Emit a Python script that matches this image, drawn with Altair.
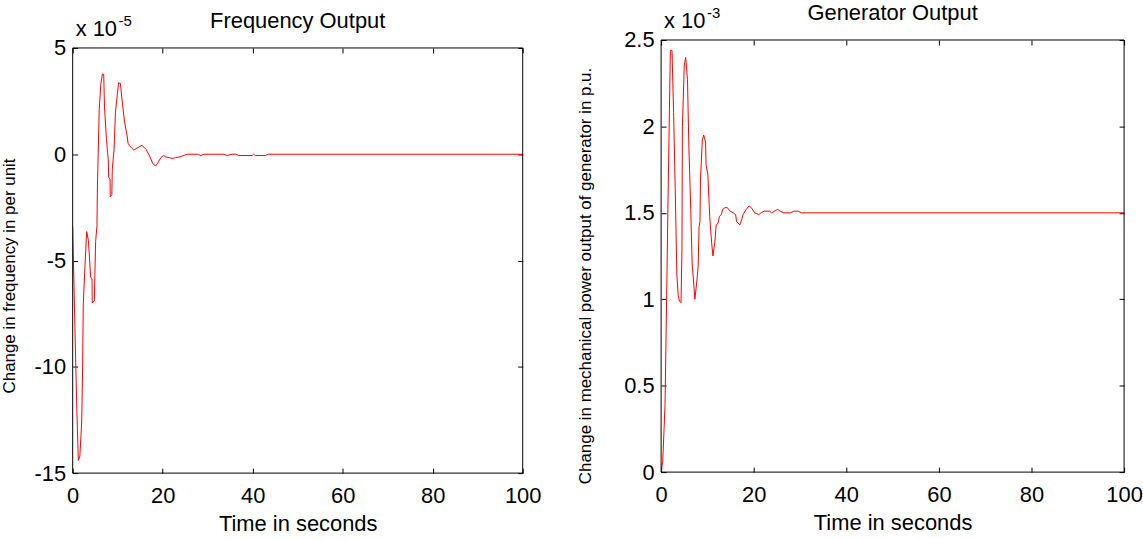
import altair as alt
import pandas as pd

# Frequency output (values in units of 1e-5)
freq_t = [0, 0.5, 0.9, 1.25, 1.6, 2.0, 2.2, 2.35, 2.7, 3.1, 3.5, 4.0, 4.3, 4.35, 4.8,
          5.1, 5.4, 5.5, 5.9, 6.25, 6.6, 6.9, 7.06, 7.5, 7.9, 8.0, 8.3, 8.35, 8.7, 8.8,
          9.2, 9.5, 9.9, 10.2, 10.6, 11.0, 11.5, 12.1, 12.3, 12.6, 13.2, 13.6, 14.1,
          14.9, 15.4, 16.3, 17.1, 17.8, 18.4, 18.9, 19.6, 20.2, 20.7, 21.5, 22.1, 22.9,
          24.0, 24.8, 25.5, 27.7, 28.5, 29.2, 33.6, 34.3, 35.4, 36.2, 36.9, 39.9, 40.2,
          40.6, 42.8, 43.5, 100]
freq_v = [-3.4, -8.2, -11.8, -14.4, -14.2, -12.6, -10.2, -7.1, -5.4, -3.64, -4.06, -5.8,
          -5.85, -7.0, -6.9, -4.1, -3.36, -1.5, 2.1, 3.28, 3.78, 3.75, 2.27, 0.7, -0.23,
          -1.1, -1.15, -2.0, -1.9, -0.7, 0.23, 1.95, 2.8, 3.36, 3.33, 2.5, 1.56, 0.86,
          0.52, 0.42, 0.27, 0.19, 0.27, 0.36, 0.42, 0.23, -0.08, -0.44, -0.55, -0.42,
          -0.16, -0.05, -0.13, -0.16, -0.2, -0.16, -0.11, -0.05, 0, 0, -0.06, 0, 0, -0.06,
          0, 0, -0.06, -0.06, 0, -0.06, -0.06, 0, 0]

# Generator output (values in units of 1e-3)
gen_t = [0, 0.35, 0.85, 1.2, 1.5, 1.8, 2.0, 2.35, 2.7, 3.05, 3.4, 3.7, 3.97, 4.3, 4.5,
         4.6, 5.0, 5.3, 5.7, 6.0, 6.4, 6.7, 7.3, 7.7, 8.0, 8.2, 8.4, 8.5, 8.9, 9.2, 9.6,
         9.7, 10.1, 10.5, 10.9, 11.2, 11.6, 11.9, 12.3, 12.6, 13.0, 13.3, 13.8, 14.3,
         14.9, 15.6, 16.1, 16.3, 17.0, 17.4, 17.7, 18.4, 19.0, 19.5, 20.2, 21.1, 21.6,
         22.3, 23.4, 23.9, 24.5, 25.2, 25.7, 26.5, 28.0, 28.7, 29.6, 30.3, 100]
gen_v = [0, 0.06, 0.39, 1.02, 1.58, 2.1, 2.44, 2.44, 2.08, 1.64, 1.14, 1.02, 0.99, 0.98,
         1.29, 2.0, 2.35, 2.4, 2.27, 1.88, 1.52, 1.21, 1.0, 1.1, 1.19, 1.42, 1.45, 1.69,
         1.92, 1.95, 1.91, 1.78, 1.72, 1.48, 1.33, 1.25, 1.33, 1.43, 1.44, 1.48, 1.49,
         1.52, 1.53, 1.53, 1.51, 1.5, 1.49, 1.45, 1.43, 1.46, 1.49, 1.52, 1.54, 1.53,
         1.5, 1.49, 1.5, 1.51, 1.51, 1.5, 1.51, 1.52, 1.51, 1.5, 1.5, 1.51, 1.51, 1.5, 1.5]

x_ticks = [0, 20, 40, 60, 80, 100]
freq_ticks = [-15, -10, -5, 0, 5]
gen_ticks = [0, 0.5, 1, 1.5, 2, 2.5]

FONT = "Liberation Sans"
FS = 22


def panel(t, v, ydom, yticks, title, ytitle, exp, w, h, top, ytitle_x, ytitle_y):
    df = pd.DataFrame({"t": t, "v": v})
    base = alt.Chart(df)
    xs = alt.Scale(domain=[0, 100], nice=False, zero=False)
    ys = alt.Scale(domain=ydom, nice=False, zero=False, range=[h, top])
    main = base.mark_line(color="#ff0000", strokeWidth=1, clip=True).encode(
        x=alt.X("t:Q", scale=xs, title="Time in seconds",
                axis=alt.Axis(orient="bottom", values=x_ticks, offset=-5, tickSize=5,
                              domain=False, grid=False, labelPadding=13, labelFlush=False,
                              labelExpr="toString(datum.value)", titlePadding=7,
                              titleFontSize=FS)),
        y=alt.Y("v:Q", scale=ys, title=None,
                axis=alt.Axis(orient="left", values=yticks, offset=-5, tickSize=5,
                              domain=False, grid=False, labelPadding=7,
                              labelExpr="toString(datum.value)")),
    )
    mirror = base.mark_line(opacity=0).encode(
        x=alt.X("t:Q", scale=xs, title=None,
                axis=alt.Axis(orient="top", values=x_ticks, offset=-5 - top, tickSize=5,
                              domain=False, grid=False, labels=False)),
        y=alt.Y("v:Q", scale=ys, title=None,
                axis=alt.Axis(orient="right", values=yticks, offset=-5, tickSize=5,
                              domain=False, grid=False, labels=False)),
    )
    one = alt.Chart(pd.DataFrame({"a": [0]}))
    frame = one.mark_rect(fill="transparent", stroke="black", strokeWidth=1).encode(
        x=alt.value(0), x2=alt.value(w), y=alt.value(top), y2=alt.value(h))
    ttl = one.mark_text(align="center", baseline="alphabetic", font=FONT, fontSize=FS,
                        color="black").encode(x=alt.value(w / 2), y=alt.value(top - 20),
                                              text=alt.value(title))
    ann1 = one.mark_text(align="left", baseline="alphabetic", font=FONT, fontSize=FS,
                         color="black").encode(x=alt.value(3), y=alt.value(top - 12),
                                               text=alt.value("x 10"))
    ann2 = one.mark_text(align="left", baseline="alphabetic", font=FONT, fontSize=15,
                         color="black").encode(x=alt.value(46), y=alt.value(top - 22),
                                               text=alt.value(exp))
    ylab = one.mark_text(align="center", baseline="middle", font=FONT, fontSize=17,
                         angle=270, color="black").encode(
        x=alt.value(ytitle_x), y=alt.value(ytitle_y), text=alt.value(ytitle))
    return alt.layer(main, mirror, frame, ttl, ann1, ann2, ylab).resolve_axis(
        x="independent", y="independent"
    ).properties(width=w, height=h)


left = panel(freq_t, freq_v, [-15, 5], freq_ticks, "Frequency Output",
             "Change in frequency in per unit", "-5", 452, 435, 8, -63, 237)
right = panel(gen_t, gen_v, [0, 2.5], gen_ticks, "Generator Output",
              "Change in mechanical power output of generator in p.u.", "-3",
              465, 434, 0, -75, 237)

chart = alt.hconcat(left, right, spacing=35).properties(
    padding={"left": 0, "top": 0, "right": 0, "bottom": 0}, background="white"
).configure_view(stroke="transparent").configure_axis(
    labelFont=FONT, labelFontSize=FS, labelColor="black", titleFont=FONT,
    titleFontWeight="normal", titleColor="black", tickColor="black", tickWidth=1
)

chart.save("out.html", embed_options={"renderer": "svg", "actions": False})
